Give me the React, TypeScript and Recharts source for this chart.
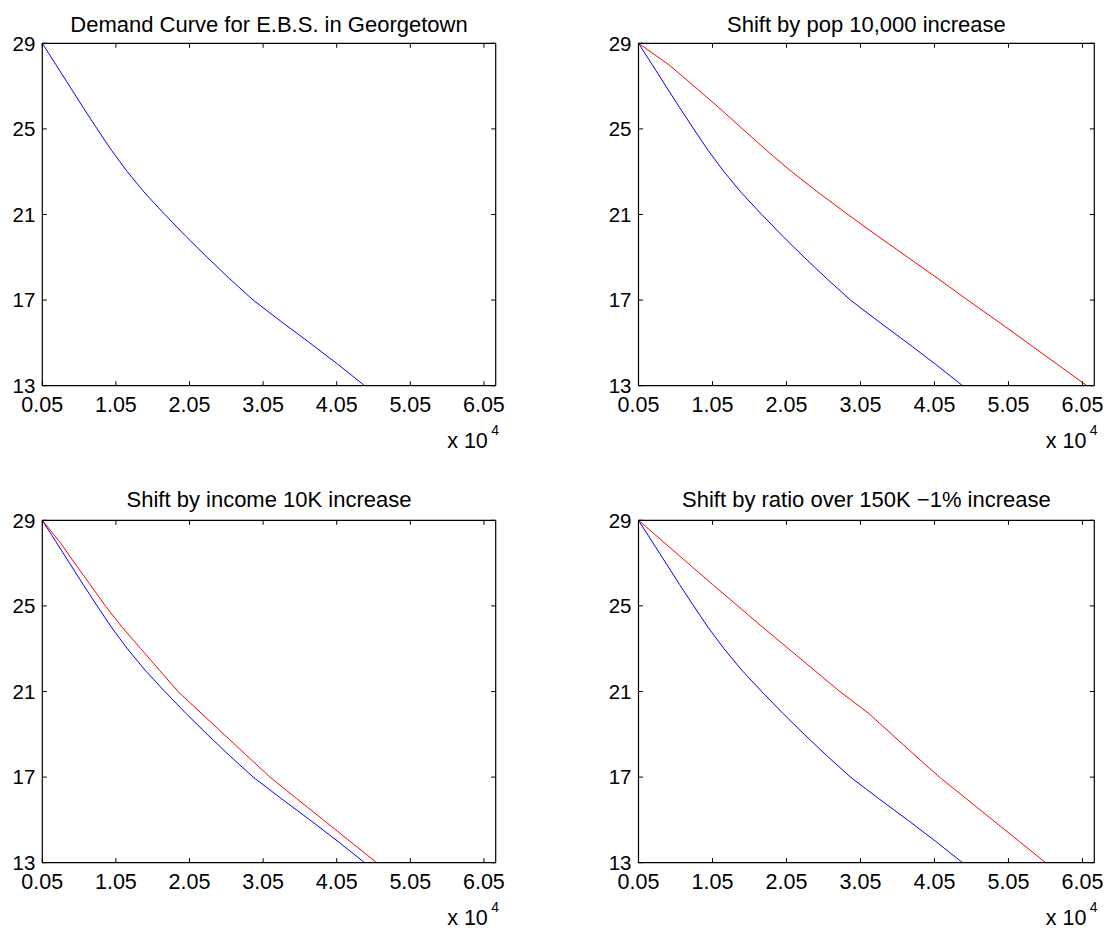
import React from 'react';
import { LineChart, Line, XAxis, YAxis } from 'recharts';

// price levels (y) and quantities demanded (x)
const prices = [29, 28, 27, 26, 25, 24, 23, 22, 21, 20, 19, 18, 17, 16, 15, 14, 13];
const baseQty = [500, 2350, 4200, 6050, 7950, 9900, 12050, 14450, 17150, 19950, 22900, 25950, 29150, 32950, 36850, 40650, 44300];
const popQty = [500, 4600, 8000, 11350, 14550, 17800, 21200, 24900, 28800, 32800, 36900, 41000, 45000, 49100, 53100, 57100, 61100];
const incomeQty = [500, 2850, 4900, 6990, 9070, 11360, 13880, 16410, 18930, 22050, 25170, 28300, 31430, 35050, 38680, 42300, 45930];
const ratioQty = [500, 3840, 7170, 10520, 13910, 17300, 20770, 24240, 27710, 31530, 34730, 37920, 41170, 44760, 48350, 51940, 55530];

const xTicks = [500, 10500, 20500, 30500, 40500, 50500, 60500];
const yTicks = [13, 17, 21, 25, 29];

const FONT = '"Liberation Sans", Arial, Helvetica, sans-serif';
const TICK_LEN = 4.5;

const toPoints = (qty: number[]) => prices.map((p, i) => ({ q: qty[i], p }));

const BottomTick = ({ x, y, payload }: any) => (
  <g>
    <line x1={x} x2={x} y1={y} y2={y - TICK_LEN} stroke="#000" />
    <text x={x} y={y + 26.7} textAnchor="middle" fontSize={21.5} fontFamily={FONT} fill="#000">
      {(payload.value / 10000).toFixed(2)}
    </text>
  </g>
);

const TopTick = ({ x, y }: any) => (
  <line x1={x} x2={x} y1={y} y2={y + TICK_LEN} stroke="#000" />
);

const LeftTick = ({ x, y, payload }: any) => (
  <g>
    <line x1={x} x2={x + TICK_LEN} y1={y} y2={y} stroke="#000" />
    <text x={x - 7} y={y + 7.2} textAnchor="end" fontSize={20.5} fontFamily={FONT} fill="#000">
      {payload.value}
    </text>
  </g>
);

const RightTick = ({ x, y }: any) => (
  <line x1={x} x2={x - TICK_LEN} y1={y} y2={y} stroke="#000" />
);

interface PanelProps {
  left: number;
  top: number;
  width: number;
  height: number;
  plot: { top: number; right: number; bottom: number; left: number };
  title: string;
  titleGap: number;
  shifted?: number[];
}

const axisLine = { stroke: '#000', strokeWidth: 1.2 };

const Panel: React.FC<PanelProps> = ({ left, top, width, height, plot, title, titleGap, shifted }) => {
  // plot = edges of the plotting box; each axis takes 1px outside it
  const margin = {
    top: plot.top - 1,
    left: plot.left - 1,
    right: width - plot.right - 1,
    bottom: height - plot.bottom - 1,
  };

  return (
    <div style={{ position: 'absolute', left, top, width, height }}>
      <LineChart width={width} height={height} margin={margin}>
        <XAxis
          xAxisId="b"
          type="number"
          dataKey="q"
          domain={[500, 62100]}
          allowDataOverflow
          ticks={xTicks}
          interval={0}
          height={1}
          tickSize={0}
          tickMargin={0}
          tickLine={false}
          axisLine={axisLine}
          tick={(props: any) => <BottomTick {...props} />}
        />
        <XAxis
          xAxisId="t"
          orientation="top"
          type="number"
          dataKey="q"
          domain={[500, 62100]}
          allowDataOverflow
          ticks={xTicks}
          interval={0}
          height={1}
          tickSize={0}
          tickMargin={0}
          tickLine={false}
          axisLine={axisLine}
          tick={(props: any) => <TopTick {...props} />}
        />
        <YAxis
          yAxisId="l"
          type="number"
          domain={[13, 29]}
          allowDataOverflow
          ticks={yTicks}
          interval={0}
          width={1}
          tickSize={0}
          tickMargin={0}
          tickLine={false}
          axisLine={axisLine}
          tick={(props: any) => <LeftTick {...props} />}
        />
        <YAxis
          yAxisId="r"
          orientation="right"
          type="number"
          domain={[13, 29]}
          allowDataOverflow
          ticks={yTicks}
          interval={0}
          width={1}
          tickSize={0}
          tickMargin={0}
          tickLine={false}
          axisLine={axisLine}
          tick={(props: any) => <RightTick {...props} />}
        />
        <Line
          xAxisId="b"
          yAxisId="l"
          data={toPoints(baseQty)}
          dataKey="p"
          type="linear"
          stroke="#0000ff"
          strokeWidth={1}
          dot={false}
          isAnimationActive={false}
        />
        {shifted && (
          <Line
            xAxisId="b"
            yAxisId="l"
            data={toPoints(shifted)}
            dataKey="p"
            type="linear"
            stroke="#ff0000"
            strokeWidth={1}
            dot={false}
            isAnimationActive={false}
          />
        )}
      </LineChart>
      <svg
        width={width}
        height={height}
        style={{ position: 'absolute', left: 0, top: 0, pointerEvents: 'none', overflow: 'visible' }}
      >
        <text
          x={(plot.left + plot.right) / 2}
          y={plot.top - titleGap}
          textAnchor="middle"
          fontSize={22}
          fontFamily={FONT}
          fill="#000"
        >
          {title}
        </text>
        <text x={plot.right - 48.5} y={plot.bottom + 62.5} fontSize={21.5} fontFamily={FONT} fill="#000">
          x 10
        </text>
        <text x={plot.right - 4.5} y={plot.bottom + 49.5} fontSize={14} fontFamily={FONT} fill="#000">
          4
        </text>
      </svg>
    </div>
  );
};

export default function App() {
  return (
    <div style={{ position: 'absolute', left: 0, top: 0, width: 1111, height: 932, background: '#fff' }}>
      <Panel
        left={0}
        top={0}
        width={555}
        height={466}
        plot={{ top: 43.3, right: 495.7, bottom: 385.7, left: 42.3 }}
        title="Demand Curve for E.B.S. in Georgetown"
        titleGap={11.5}
      />
      <Panel
        left={556}
        top={0}
        width={555}
        height={466}
        plot={{ top: 43.3, right: 538.3, bottom: 385.7, left: 82.5 }}
        title="Shift by pop 10,000 increase"
        titleGap={11.5}
        shifted={popQty}
      />
      <Panel
        left={0}
        top={466}
        width={555}
        height={466}
        plot={{ top: 54.3, right: 495.7, bottom: 396.7, left: 42.3 }}
        title="Shift by income 10K increase"
        titleGap={13.5}
        shifted={incomeQty}
      />
      <Panel
        left={556}
        top={466}
        width={555}
        height={466}
        plot={{ top: 54.3, right: 538.3, bottom: 396.7, left: 82.5 }}
        title="Shift by ratio over 150K −1% increase"
        titleGap={13.5}
        shifted={ratioQty}
      />
    </div>
  );
}
